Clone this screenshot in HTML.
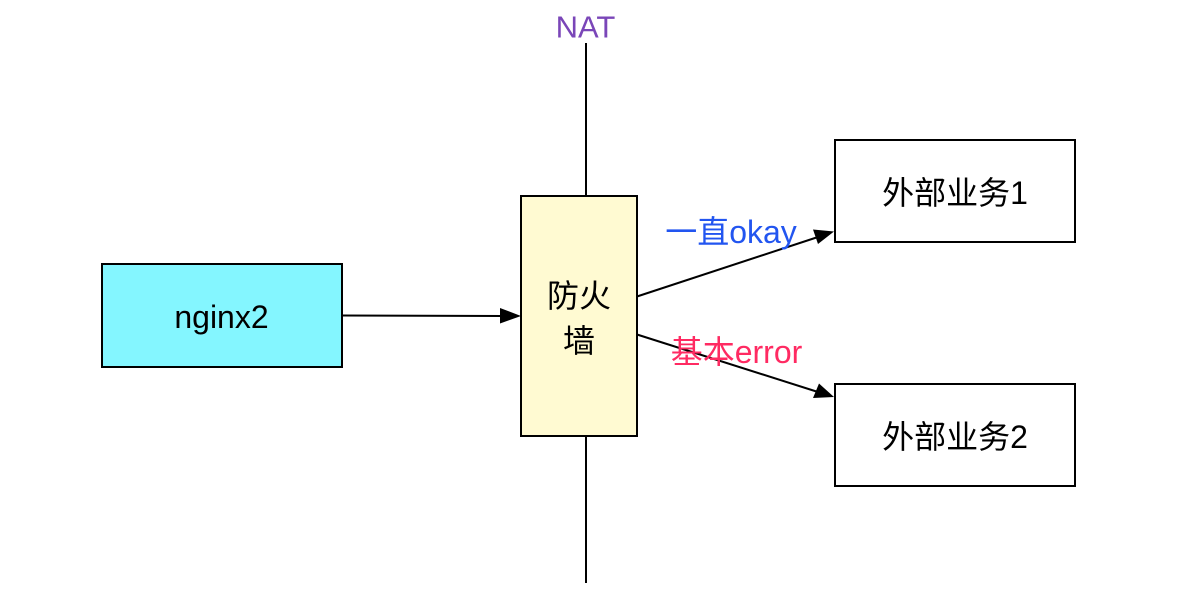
<!DOCTYPE html>
<html><head><meta charset="utf-8">
<style>html,body{margin:0;padding:0;background:#fff}svg{display:block}
text{font-family:"Liberation Sans","Noto Sans CJK SC",sans-serif;text-anchor:middle}</style></head>
<body>
<svg width="1192" height="596" viewBox="0 0 1192 596" xmlns="http://www.w3.org/2000/svg">
<rect width="1192" height="596" fill="#fff"/>
<g stroke="#000" stroke-width="2" fill="none">
<line x1="586" y1="43" x2="586" y2="196"/>
<line x1="586" y1="436" x2="586" y2="583"/>
<line x1="342" y1="315.5" x2="503" y2="316"/>
<line x1="637" y1="296.5" x2="818" y2="237"/>
<line x1="637" y1="334.5" x2="818" y2="392"/>
</g>
<polygon points="521,316 500,308 500,323.5" fill="#000"/>
<polygon points="834,231.5 813,229.5 818,244" fill="#000"/>
<polygon points="834,397 819,383.5 813,398" fill="#000"/>
<rect x="102" y="264" width="240" height="103" fill="#84f6ff" stroke="#000" stroke-width="2"/>
<rect x="521" y="196" width="116" height="240" fill="#fffad2" stroke="#000" stroke-width="2"/>
<rect x="835" y="140" width="240" height="102" fill="#fff" stroke="#000" stroke-width="2"/>
<rect x="835" y="384" width="240" height="102" fill="#fff" stroke="#000" stroke-width="2"/>
<text x="221.5" y="328" font-size="32" fill="#000">nginx2</text>
<text x="579" y="307" font-size="32" fill="#000">防火</text>
<text x="579" y="352" font-size="32" fill="#000">墙</text>
<text x="955" y="204" font-size="32" fill="#000">外部业务1</text>
<text x="955" y="448" font-size="32" fill="#000">外部业务2</text>
<text x="585.5" y="37.5" font-size="31" fill="#7a46b8">NAT</text>
<text x="731" y="243" font-size="32" fill="#2255f0">一直okay</text>
<text x="736.5" y="363" font-size="32" fill="#ff2a62">基本error</text>
</svg>
</body></html>
